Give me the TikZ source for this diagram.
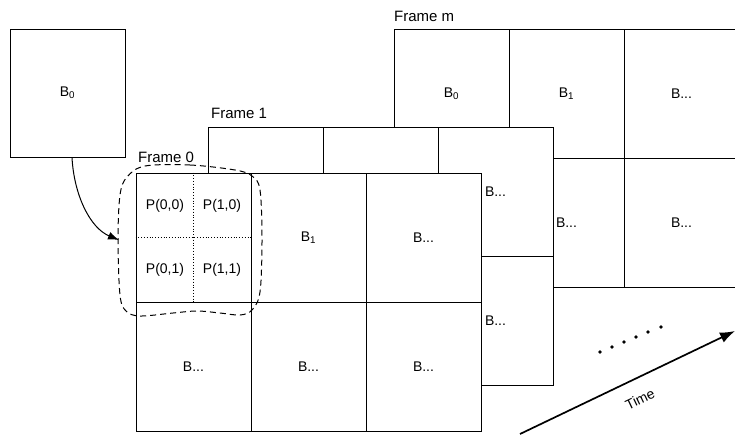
\documentclass[tikz,border=0pt]{standalone}
\usepackage{fontspec}
\setmainfont{Liberation Sans}
\usetikzlibrary{arrows.meta}
\begin{document}
\begin{tikzpicture}[x=1pt,y=-1pt,
  cell/.style={draw, fill=white, minimum width=115pt, minimum height=129pt, inner sep=0pt, line width=1pt, font=\fontsize{14}{16}\selectfont},
  quad/.style={inner sep=0pt, font=\fontsize{14}{16}\selectfont},
  flabel/.style={anchor=base west, inner sep=0pt, font=\fontsize{15}{17}\selectfont},
  dotline/.style={dotted, line width=0.8pt},
  blob/.style={line width=1pt, dash pattern=on 6pt off 4pt}]
\clip (0,0) rectangle (735,434);
% separate block
\node[cell, minimum height=128pt] (b0) at (67.5,93) {B\textsubscript{0}};
% Frame m
\node[cell] (m00) at (451.5,93.5) {B\textsubscript{0}};
\node[cell] (m10) at (566.5,93.5) {B\textsubscript{1}};
\node[cell] (m20) at (681.5,93.5) {B...};
\node[cell] (m01) at (451.5,222.5) {};
\node[cell] (m11) at (566.5,222.5) {B...};
\node[cell] (m21) at (681.5,222.5) {B...};
\node[flabel] (fm) at (394,21) {Frame m};
% Frame 1
\node[cell] (n00) at (265.5,191.5) {};
\node[cell] (n10) at (380.5,191.5) {};
\node[cell] (n20) at (495.5,191.5) {B...};
\node[cell] (n01) at (265.5,320.5) {};
\node[cell] (n11) at (380.5,320.5) {};
\node[cell] (n21) at (495.5,320.5) {B...};
\node[flabel] (f1) at (211,118) {Frame 1};
% Frame 0
\node[cell] (a00) at (193.5,237.5) {};
\node[cell] (a10) at (308.5,237.5) {B\textsubscript{1}};
\node[cell] (a20) at (423.5,237.5) {B...};
\node[cell] (a01) at (193.5,366.5) {B...};
\node[cell] (a11) at (308.5,366.5) {B...};
\node[cell] (a21) at (423.5,366.5) {B...};
\node[flabel] (f0) at (138,162) {Frame 0};
\draw[dotline] (a00.north) -- (a00.south);
\draw[dotline] (a00.west) -- (a00.east);
\node[quad] (p00) at (165,205.5) {P(0,0)};
\node[quad] (p10) at (222,205.5) {P(1,0)};
\node[quad] (p01) at (165,270) {P(0,1)};
\node[quad] (p11) at (222,270) {P(1,1)};
% dashed region
\draw[blob] plot[smooth cycle, tension=0.55] coordinates {(145,166) (190,165) (235,170) (252,176) (260,190) (262,240) (260,292) (252,310) (240,315) (220,313) (197,311) (173,313) (140,316) (126,311) (120,295) (118,240) (120,195) (127,177)};
\coordinate (blobw) at (119,240);
\draw[line width=1pt, -{Latex[length=11pt,width=8pt]}] ([xshift=4.5pt]b0.south) .. controls (74,195) and (90,228) .. (blobw);
% time arrow
\coordinate (t0) at (520,434);
\coordinate (t1) at (735,331);
\draw[line width=1.7pt, -{Latex[length=15pt,width=11pt]}] (t0) -- (t1);
\node[rotate=25.6, font=\fontsize{14}{16}\selectfont] (time) at (640,399) {Time};
\foreach \i/\x/\y in {1/600/352,2/612/347,3/624/342,4/636/337,5/648/332,6/661/327}
  \fill (\x,\y) circle (1.8pt) coordinate (d\i);
\end{tikzpicture}
\end{document}
